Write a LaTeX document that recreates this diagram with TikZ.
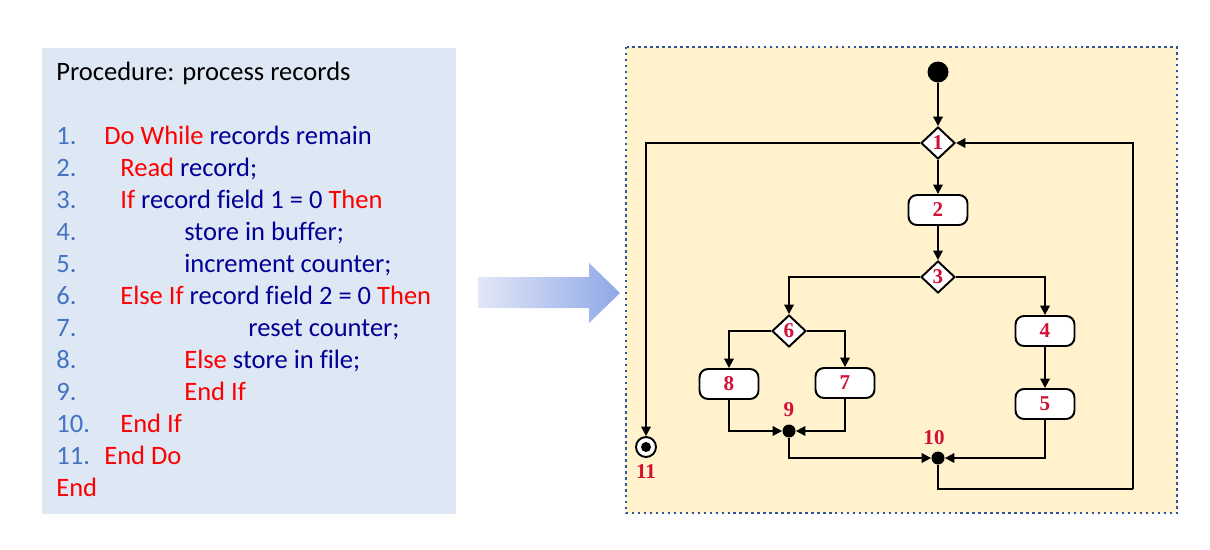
\documentclass[tikz,border=0pt]{standalone}
\usepackage{fontspec}
\setmainfont[Ligatures={NoCommon}]{Carlito}
\newfontfamily\lserif{Liberation Serif}
\usetikzlibrary{shapes.geometric,arrows.meta}
\definecolor{numblue}{RGB}{68,114,196}
\definecolor{navytext}{RGB}{0,0,150}
\definecolor{kwred}{RGB}{255,0,0}
\definecolor{leftbg}{RGB}{222,232,244}
\definecolor{rightbg}{RGB}{255,242,204}
\definecolor{borderblue}{RGB}{47,85,151}
\definecolor{lblred}{RGB}{208,16,52}
\definecolor{arrowA}{RGB}{226,231,247}
\definecolor{arrowB}{RGB}{143,168,230}
\newcommand{\kw}[1]{\textcolor{kwred}{#1}}
\newcommand{\tx}[1]{\textcolor{navytext}{#1}}
\begin{document}
\begin{tikzpicture}[x=0.02cm,y=-0.02cm,
  codeline/.style={anchor=base west,inner sep=0pt,font=\fontsize{15.1}{17}\selectfont},
  numline/.style={codeline,text=numblue},
  lbl/.style={font=\lserif\bfseries\fontsize{12}{14}\selectfont,text=lblred},
  decision/.style={diamond,draw,line width=1.1pt,fill=white,minimum width=0.68cm,minimum height=0.64cm,inner sep=0pt,lbl},
  action/.style={rectangle,rounded corners=0.17cm,draw,line width=1.1pt,fill=white,minimum width=1.18cm,minimum height=0.6cm,inner sep=0pt,lbl},
  junction/.style={circle,fill=black,minimum size=0.26cm,inner sep=0pt},
  conn/.style={line width=1.1pt,-{Triangle[length=0.19cm,width=0.19cm]}},
  plain/.style={line width=1.1pt}
]
\useasboundingbox (0,0) rectangle (1210,549);
% left panel
\fill[leftbg] (42,48) rectangle (456,514);
\node[codeline] (title) at (56,80) {Procedure: process records};
\foreach \i in {1,...,11} {
  \node[numline] (num\i) at (56,{144+32*(\i-1)}) {\i.};
}
\node[codeline] (c1) at (104,144) {\kw{Do While} \tx{records remain}};
\node[codeline] (c2) at (120,176) {\kw{Read} \tx{record;}};
\node[codeline] (c3) at (120,208) {\kw{If} \tx{record field 1 = 0} \kw{Then}};
\node[codeline] (c4) at (184,240) {\tx{store in buffer;}};
\node[codeline] (c5) at (184,272) {\tx{increment counter;}};
\node[codeline] (c6) at (120,304) {\kw{Else If} \tx{record field 2 = 0} \kw{Then}};
\node[codeline] (c7) at (248,336) {\tx{reset counter;}};
\node[codeline] (c8) at (184,368) {\kw{Else} \tx{store in file;}};
\node[codeline] (c9) at (184,400) {\kw{End If}};
\node[codeline] (c10) at (120,432) {\kw{End If}};
\node[codeline] (c11) at (104,464) {\kw{End Do}};
\node[codeline] (c12) at (56,496) {\kw{End}};
% arrow
\shade[left color=arrowA,right color=arrowB]
  (478,277) -- (589,277) -- (589,263) -- (620,293) -- (589,323) -- (589,308) -- (478,308) -- cycle;
% right panel
\fill[rightbg] (626,47) rectangle (1177,513);
\draw[borderblue,line width=1.4pt,dotted] (626,47) rectangle (1177,513);
% flowchart nodes
\node[circle,fill=black,minimum size=0.42cm,inner sep=0pt] (start) at (938,72) {};
\node[decision] (d1) at (938,143) {1};
\node[action] (n2) at (938,210) {2};
\node[decision] (d3) at (938,277) {3};
\node[decision] (d6) at (789,331) {6};
\node[action] (n4) at (1045,331) {4};
\node[action] (n5) at (1045,404) {5};
\node[action] (n8) at (729,384) {8};
\node[action] (n7) at (845,383) {7};
\node[junction] (j9) at (789,431) {};
\node[junction] (j10) at (938,458) {};
\node[circle,draw,line width=1.1pt,fill=white,minimum size=0.4cm,inner sep=0pt] (e11) at (646,447) {};
\node[circle,fill=black,minimum size=0.2cm,inner sep=0pt] (e11dot) at (e11.center) {};
\node[lbl] (l9) at (789,410) {9};
\node[lbl] (l10) at (934,438) {10};
\node[lbl] (l11) at (646,472) {11};
\coordinate (loopBR) at (1133,489);
% connectors
\draw[conn] (start) -- (d1);
\draw[conn] (d1) -- (n2);
\draw[conn] (n2) -- (d3);
\draw[conn] (d3.west) -| (d6.north);
\draw[conn] (d3.east) -| (n4.north);
\draw[conn] (d6.west) -| (n8.north);
\draw[conn] (d6.east) -| (n7.north);
\draw[conn] (n4) -- (n5);
\draw[conn] (n8.south) |- (j9.west);
\draw[conn] (n7.south) |- (j9.east);
\draw[conn] (j9.south) |- (j10.west);
\draw[conn] (n5.south) |- (j10.east);
\draw[plain] (j10.south) |- (loopBR);
\draw[conn] (loopBR) |- (d1.east);
\draw[conn] (d1.west) -| (e11.north);
\end{tikzpicture}
\end{document}
